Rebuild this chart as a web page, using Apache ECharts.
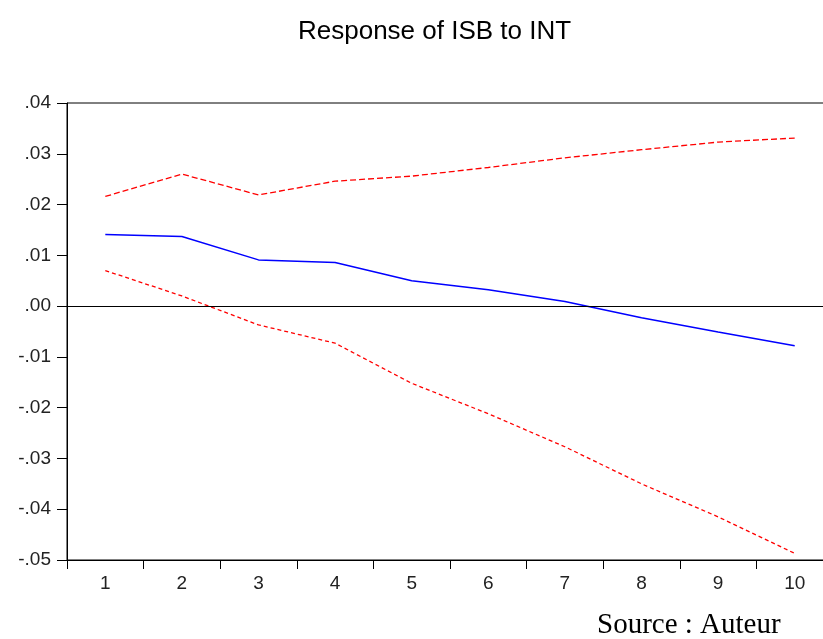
<!DOCTYPE html>
<html>
<head>
<meta charset="utf-8">
<script src="https://cdn.jsdelivr.net/npm/echarts@6/dist/echarts.min.js"></script>
<style>
  html, body { margin: 0; padding: 0; background: #fff; overflow: hidden; }
  /* canvas is a bit wider than the window: the plot is cut off on the right, as in the original */
  #chart { width: 845px; height: 639px; }
</style>
</head>
<body>
<div id="chart"></div>
<script>
// periods after the shock
var periods = ['1', '2', '3', '4', '5', '6', '7', '8', '9', '10'];

// response of ISB to INT
var response = [0.0141, 0.0137, 0.0091, 0.0086, 0.0050, 0.0032, 0.0009, -0.0023, -0.0051, -0.0078];

// +/- 2 S.E. bands
var upperBand = [0.0216, 0.0260, 0.0219, 0.0246, 0.0256, 0.0273, 0.0292, 0.0308, 0.0323, 0.0331];
var lowerBand = [0.0070, 0.0020, -0.0037, -0.0073, -0.0152, -0.0212, -0.0277, -0.0350, -0.0415, -0.0487];

var chart = echarts.init(document.getElementById('chart'));

function fmt(v) {
    var s = (Math.round(v * 100) / 100).toFixed(2);
    return s.replace('0.', '.');
}

var option = {
    animation: false,
    backgroundColor: '#fff',
    title: {
        text: 'Response of ISB to INT',
        left: 293,
        top: 14,
        textStyle: {
            fontFamily: 'Liberation Sans',
            fontWeight: 'normal',
            fontSize: 26,
            color: '#000'
        }
    },
    graphic: [{
        type: 'text',
        left: 597,
        top: 611,
        style: {
            text: 'Source : Auteur',
            font: '29px "Liberation Serif"',
            fill: '#000'
        }
    }],
    grid: {
        left: 67,
        right: 12,
        top: 103,
        bottom: 79,
        show: true,
        borderColor: '#000',
        borderWidth: 1
    },
    xAxis: {
        type: 'category',
        data: periods,
        boundaryGap: true,
        axisLine: { onZero: false, lineStyle: { color: '#000', width: 1 } },
        axisTick: { show: true, length: 9, lineStyle: { color: '#000' } },
        axisLabel: {
            margin: 14,
            fontFamily: 'Liberation Sans',
            fontSize: 19,
            color: '#222'
        },
        splitLine: { show: false }
    },
    yAxis: {
        type: 'value',
        min: -0.05,
        max: 0.04,
        interval: 0.01,
        axisLine: { show: true, lineStyle: { color: '#000', width: 1 } },
        axisTick: { show: true, length: 10, lineStyle: { color: '#000' } },
        axisLabel: {
            margin: 16,
            fontFamily: 'Liberation Sans',
            fontSize: 19,
            color: '#222',
            formatter: fmt
        },
        splitLine: { show: false }
    },
    series: [
        {
            name: 'Response',
            type: 'line',
            data: response,
            symbol: 'none',
            lineStyle: { color: '#0000ff', width: 1.5 },
            z: 3,
            markLine: {
                silent: true,
                symbol: 'none',
                label: { show: false },
                lineStyle: { color: '#000', width: 1, type: 'solid' },
                data: [{ yAxis: 0 }]
            }
        },
        {
            name: 'Upper',
            type: 'line',
            data: upperBand,
            symbol: 'none',
            lineStyle: { color: '#ff0000', width: 1.3, type: [6, 3] }
        },
        {
            name: 'Lower',
            type: 'line',
            data: lowerBand,
            symbol: 'none',
            lineStyle: { color: '#ff0000', width: 1.3, type: [4, 3] }
        }
    ]
};

chart.setOption(option);
</script>
</body>
</html>
